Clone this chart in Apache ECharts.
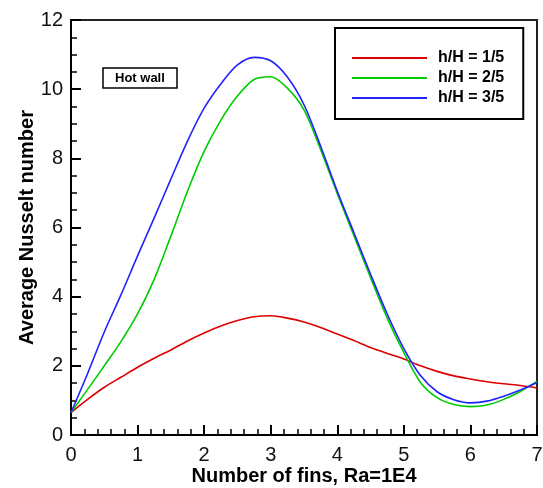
<!DOCTYPE html>
<html>
<head>
<meta charset="utf-8">
<script src="https://cdn.jsdelivr.net/npm/echarts@6/dist/echarts.min.js"></script>
<style>
html,body{margin:0;padding:0;background:#fff;}
#chart{width:543px;height:488px;}
</style>
</head>
<body>
<div id="chart"></div>
<script>
// Number of fins (x positions where values were read)
const xs = [0, 0.25, 0.5, 0.75, 1, 1.25, 1.5, 1.75, 2, 2.25, 2.5, 2.75, 3, 3.25, 3.5, 3.75, 4, 4.25, 4.5, 4.75, 5, 5.25, 5.5, 5.75, 6, 6.25, 6.5, 6.75, 7];
// h/H = 1/5
const red = [0.65, 1.03, 1.38, 1.67, 1.96, 2.22, 2.46, 2.72, 2.95, 3.15, 3.31, 3.42, 3.45, 3.38, 3.27, 3.11, 2.92, 2.73, 2.53, 2.36, 2.20, 2.00, 1.84, 1.71, 1.62, 1.54, 1.48, 1.43, 1.36];
// h/H = 2/5
const green = [0.65, 1.32, 2.00, 2.70, 3.50, 4.50, 5.75, 7.05, 8.20, 9.10, 9.80, 10.28, 10.36, 10.03, 9.40, 8.25, 6.98, 5.76, 4.55, 3.38, 2.38, 1.52, 1.08, 0.88, 0.82, 0.87, 1.03, 1.26, 1.55];
// h/H = 3/5
const blue = [0.65, 1.78, 2.98, 4.05, 5.18, 6.28, 7.40, 8.50, 9.45, 10.15, 10.70, 10.92, 10.82, 10.35, 9.55, 8.35, 7.05, 5.85, 4.65, 3.50, 2.50, 1.72, 1.25, 1.02, 0.93, 0.98, 1.12, 1.30, 1.52];
const seriesNames = ['h/H = 1/5', 'h/H = 2/5', 'h/H = 3/5'];
const seriesColors = ['#dd0000', '#00cc00', '#2222ff'];
const xTicks = [0, 1, 2, 3, 4, 5, 6, 7];
const yTicks = [0, 2, 4, 6, 8, 10, 12];
const xTitle = 'Number of fins, Ra=1E4';
const yTitle = 'Average Nusselt number';
const boxLabel = 'Hot wall';

const pair = arr => arr.map((v, i) => [xs[i], v]);
const values = [red, green, blue];

const chart = echarts.init(document.getElementById('chart'), null, {renderer: 'canvas'});
const font = 'Liberation Sans, Arial, sans-serif';
chart.setOption({
  backgroundColor: '#ffffff',
  animation: false,
  title: {
    text: boxLabel,
    left: 103, top: 68,
    padding: [4, 12, 3, 12],
    borderColor: '#000', borderWidth: 1.5,
    textStyle: {fontFamily: font, fontSize: 13, fontWeight: 'bold', color: '#000'}
  },
  legend: {
    orient: 'vertical',
    left: 335, top: 28,
    padding: [22, 19, 13, 17],
    borderColor: '#000', borderWidth: 2,
    itemWidth: 75, itemHeight: 2, itemGap: 4,
    icon: 'rect',
    data: seriesNames,
    textStyle: {fontFamily: font, fontSize: 16, fontWeight: 'bold', color: '#000', padding: [0, 0, 0, 6]}
  },
  grid: {
    left: 71, right: 6, top: 20, bottom: 53,
    outerBoundsMode: 'none',
    show: true, borderColor: '#222', borderWidth: 2, backgroundColor: 'transparent'
  },
  xAxis: {
    type: 'value', min: xTicks[0], max: xTicks[xTicks.length - 1], interval: 1,
    name: xTitle, nameLocation: 'middle', nameGap: 31, nameMoveOverlap: false,
    nameTextStyle: {fontFamily: font, fontSize: 20, fontWeight: 'bold', color: '#000'},
    axisLine: {lineStyle: {color: '#000', width: 2}},
    axisTick: {inside: true, length: 10, lineStyle: {color: '#000', width: 2}},
    minorTick: {show: true, splitNumber: 5, length: 6, lineStyle: {color: '#000', width: 1.5}},
    splitLine: {show: false},
    axisLabel: {fontFamily: font, fontSize: 20, color: '#111', margin: 10}
  },
  yAxis: {
    type: 'value', min: yTicks[0], max: yTicks[yTicks.length - 1], interval: 2,
    name: yTitle, nameLocation: 'middle', nameGap: 34, nameRotate: 90, nameMoveOverlap: false,
    nameTextStyle: {fontFamily: font, fontSize: 20, fontWeight: 'bold', color: '#000'},
    axisLine: {lineStyle: {color: '#000', width: 2}},
    axisTick: {inside: true, length: 10, lineStyle: {color: '#000', width: 2}},
    minorTick: {show: true, splitNumber: 4, length: 6, lineStyle: {color: '#000', width: 1.5}},
    splitLine: {show: false},
    axisLabel: {fontFamily: font, fontSize: 20, color: '#111', margin: 8}
  },
  series: seriesNames.map((name, k) => ({
    name: name,
    type: 'line',
    data: pair(values[k]),
    smooth: 0.3,
    symbol: 'none',
    color: seriesColors[k],
    lineStyle: {color: seriesColors[k], width: 1.6}
  }))
});
</script>
</body>
</html>
